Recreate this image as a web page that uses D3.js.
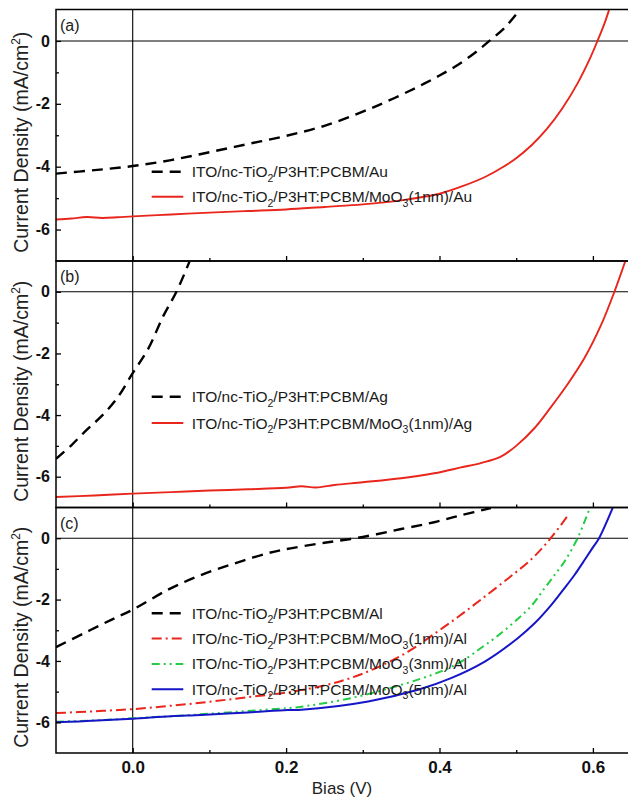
<!DOCTYPE html>
<html lang="en">
<head>
<meta charset="UTF-8">
<title>J-V curves</title>
<script src="https://cdn.jsdelivr.net/npm/d3@7"></script>
<style>
    body{margin:0;background:#fff;}
    svg{display:block;font-family:"Liberation Sans",Arial,sans-serif;}
    .border{fill:none;stroke:#000;stroke-width:1.5;}
    .zero{stroke:#000;stroke-width:1.1;}
    .curve{fill:none;stroke-linejoin:round;}
    .legend{font-size:15.5px;fill:#1a1a1a;}
</style>
</head>
<body>
<svg width="628" height="798"></svg>
<script>
// values: bias (V) and current density (mA/cm2)
// (a) Au electrode
const auV   = [-0.1,-0.05,0,0.05,0.1,0.15,0.2,0.25,0.3,0.33,0.36,0.38,0.4,0.42,0.445,0.465,0.485,0.5];
const auJ   = [-4.22,-4.11,-3.98,-3.79,-3.54,-3.28,-3.02,-2.7,-2.25,-1.94,-1.6,-1.36,-1.1,-0.82,-0.4,0,0.42,0.85];
const auMoV = [-0.1,-0.08,-0.06,-0.04,-0.02,0,0.05,0.1,0.15,0.2,0.25,0.3,0.35,0.4,0.43,0.46,0.48,0.5,0.52,0.54,0.56,0.58,0.595,0.606,0.615,0.621];
const auMoJ = [-5.68,-5.65,-5.6,-5.63,-5.61,-5.58,-5.52,-5.46,-5.41,-5.36,-5.28,-5.2,-5.07,-4.86,-4.62,-4.32,-4.05,-3.73,-3.32,-2.8,-2.15,-1.35,-0.62,0,0.55,0.98];

// (b) Ag electrode
const agV   = [-0.1,-0.08,-0.06,-0.04,-0.02,0,0.02,0.04,0.057,0.074];
const agJ   = [-5.42,-4.98,-4.48,-4.02,-3.44,-2.64,-1.86,-0.78,0,0.98];
const agMoV = [-0.1,-0.05,0,0.05,0.1,0.15,0.2,0.22,0.239,0.263,0.3,0.35,0.393,0.428,0.455,0.48,0.5,0.524,0.545,0.567,0.589,0.611,0.628,0.643];
const agMoJ = [-6.66,-6.61,-6.55,-6.5,-6.45,-6.41,-6.36,-6.31,-6.35,-6.27,-6.18,-6.05,-5.89,-5.7,-5.55,-5.35,-5.0,-4.42,-3.75,-3.0,-2.15,-1.06,0,1.05];

// (c) Al electrode
const alV    = [-0.1,-0.063,-0.028,0,0.046,0.089,0.133,0.176,0.206,0.25,0.3,0.35,0.393,0.43,0.467];
const alJ    = [-3.55,-3.09,-2.66,-2.33,-1.68,-1.2,-0.82,-0.49,-0.33,-0.15,0.04,0.3,0.52,0.76,0.98];
const al1V   = [-0.1,-0.05,0,0.05,0.1,0.15,0.2,0.25,0.285,0.32,0.359,0.393,0.424,0.454,0.489,0.52,0.545,0.568];
const al1J   = [-5.7,-5.64,-5.57,-5.46,-5.33,-5.18,-5.03,-4.8,-4.55,-4.2,-3.7,-3.12,-2.57,-2.0,-1.32,-0.68,0,0.76];
const al3V   = [-0.1,-0.05,0,0.05,0.1,0.15,0.2,0.22,0.285,0.35,0.402,0.43,0.454,0.475,0.498,0.52,0.537,0.55,0.563,0.58,0.595];
const al3J   = [-5.98,-5.94,-5.87,-5.8,-5.72,-5.63,-5.54,-5.49,-5.21,-4.78,-4.34,-4.0,-3.58,-3.2,-2.72,-2.2,-1.63,-1.2,-0.76,0,0.92];
const al5V   = [-0.1,-0.07,-0.04,0,0.05,0.089,0.15,0.202,0.22,0.307,0.372,0.415,0.459,0.502,0.525,0.545,0.562,0.576,0.59,0.6,0.608,0.626];
const al5J   = [-6.0,-5.97,-5.93,-5.88,-5.8,-5.76,-5.68,-5.6,-5.59,-5.32,-4.94,-4.56,-4.02,-3.26,-2.75,-2.2,-1.66,-1.2,-0.68,-0.3,0,1.0];

// legend labels: [text, subscript, text, subscript, text]
const legendA = [["ITO/nc-TiO","2","/P3HT:PCBM/Au"],
                 ["ITO/nc-TiO","2","/P3HT:PCBM/MoO","3","(1nm)/Au"]];
const legendB = [["ITO/nc-TiO","2","/P3HT:PCBM/Ag"],
                 ["ITO/nc-TiO","2","/P3HT:PCBM/MoO","3","(1nm)/Ag"]];
const legendC = [["ITO/nc-TiO","2","/P3HT:PCBM/Al"],
                 ["ITO/nc-TiO","2","/P3HT:PCBM/MoO","3","(1nm)/Al"],
                 ["ITO/nc-TiO","2","/P3HT:PCBM/MoO","3","(3nm)/Al"],
                 ["ITO/nc-TiO","2","/P3HT:PCBM/MoO","3","(5nm)/Al"]];

const yMajor = [-6,-4,-2,0];
const yMinor = [-5,-3,-1];
const xMajor = [0,0.2,0.4,0.6];
const xMinor = [0.1,0.3,0.5];

// line styles
const dashed  = {color:"#000",    dash:"11,7",           w:2.4};
const redLine = {color:"#e8261c", dash:null,             w:1.9};
const redDash = {color:"#e8261c", dash:"10,4,2,4",       w:2};
const grnDash = {color:"#22cc44", dash:"8,4,2,4,2,4",    w:2};
const bluLine = {color:"#1616c8", dash:null,             w:2};

const panels = [
    {tag:"(a)", top:9.5, bottom:261, legendY:171.7, step:25, labels:legendA,
     series:[[auV,auJ,dashed],[auMoV,auMoJ,redLine]]},
    {tag:"(b)", top:261, bottom:507.5, legendY:396.7, step:26.3, labels:legendB,
     series:[[agV,agJ,dashed],[agMoV,agMoJ,redLine]]},
    {tag:"(c)", top:507.5, bottom:753, legendY:613.3, step:25.3, labels:legendC,
     series:[[alV,alJ,dashed],[al1V,al1J,redDash],[al3V,al3J,grnDash],[al5V,al5J,bluLine]]}
];

const svg = d3.select("svg");
const x = d3.scaleLinear().domain([-0.1,0.65]).range([56,631.25]);

panels.forEach((p,pi)=>{
    const y = d3.scaleLinear().domain([-7,1]).range([p.bottom,p.top]);
    const g = svg.append("g");

    g.append("clipPath").attr("id","clip"+pi)
        .append("rect")
        .attr("x",x.range()[0]).attr("y",p.top)
        .attr("width",x.range()[1]-x.range()[0]).attr("height",p.bottom-p.top);

    // zero lines
    g.append("line").attr("class","zero")
        .attr("x1",x.range()[0]).attr("x2",x.range()[1])
        .attr("y1",y(0)).attr("y2",y(0));
    g.append("line").attr("class","zero")
        .attr("x1",x(0)).attr("x2",x(0))
        .attr("y1",p.top).attr("y2",p.bottom);

    // curves
    const line = d3.line().x(d=>x(d[0])).y(d=>y(d[1])).curve(d3.curveCatmullRom.alpha(0.5));
    p.series.forEach(([vs,js,st])=>{
        g.append("path")
            .attr("class","curve")
            .attr("clip-path",`url(#clip${pi})`)
            .attr("d",line(vs.map((v,i)=>[v,js[i]])))
            .attr("stroke",st.color)
            .attr("stroke-width",st.w)
            .attr("stroke-dasharray",st.dash);
    });

    // y axis, ticks pointing inward
    const yAx = g.append("g").attr("transform",`translate(${x.range()[0]},0)`)
        .call(d3.axisLeft(y).tickValues(yMajor).tickSize(-5).tickPadding(6).tickFormat(d=>String(d)));
    g.append("g").attr("transform",`translate(${x.range()[0]},0)`)
        .call(d3.axisLeft(y).tickValues(yMinor).tickSize(-3).tickFormat(""));

    // x axis at bottom of each panel
    const xAx = g.append("g").attr("transform",`translate(0,${p.bottom})`)
        .call(d3.axisBottom(x).tickValues(xMajor).tickSize(-5).tickPadding(8)
            .tickFormat(pi===2 ? d3.format(".1f") : ""));
    g.append("g").attr("transform",`translate(0,${p.bottom})`)
        .call(d3.axisBottom(x).tickValues(xMinor).tickSize(-3).tickFormat(""));

    g.selectAll(".domain").remove();
    g.selectAll(".tick line").attr("stroke","#000").attr("stroke-width",1.3);
    yAx.selectAll("text").attr("font-size",16).attr("font-weight","bold")
        .attr("font-family","Liberation Sans, Arial, sans-serif").attr("fill","#111");
    xAx.selectAll("text").attr("font-size",17).attr("font-weight","bold")
        .attr("font-family","Liberation Sans, Arial, sans-serif").attr("fill","#111");

    // frame
    g.append("rect").attr("class","border")
        .attr("x",x.range()[0]).attr("y",p.top)
        .attr("width",x.range()[1]-x.range()[0]).attr("height",p.bottom-p.top);

    // panel tag
    g.append("text").attr("x",60).attr("y",p.top+21)
        .attr("font-size",16).attr("fill","#222").text(p.tag);

    // y title
    const ty = g.append("text")
        .attr("transform",`translate(28,${(p.top+p.bottom)/2+7}) rotate(-90)`)
        .attr("text-anchor","middle").attr("font-size",19.5).attr("fill","#222");
    ty.append("tspan").text("Current Density (mA/cm");
    ty.append("tspan").attr("font-size",12).attr("dy",-8).text("2");
    ty.append("tspan").attr("dy",8).text(")");

    // legend
    p.labels.forEach((parts,i)=>{
        const ly = p.legendY + i*p.step;
        const st = p.series[i][2];
        g.append("line")
            .attr("x1",151.7).attr("x2",183.3).attr("y1",ly).attr("y2",ly)
            .attr("stroke",st.color).attr("stroke-width",st.w)
            .attr("stroke-dasharray",st.dash);
        const t = g.append("text").attr("class","legend")
            .attr("x",191.7).attr("y",ly+5.5);
        parts.forEach((s,k)=>{
            const sub = k%2===1;
            const ts = t.append("tspan").text(s);
            if(sub) ts.attr("font-size",10.5).attr("dy",4.5);
            else if(k>0) ts.attr("dy",-4.5);
        });
    });
});

// x title
svg.append("text").attr("x",342).attr("y",794)
    .attr("text-anchor","middle").attr("font-size",17).attr("fill","#222")
    .text("Bias (V)");
</script>
</body>
</html>
